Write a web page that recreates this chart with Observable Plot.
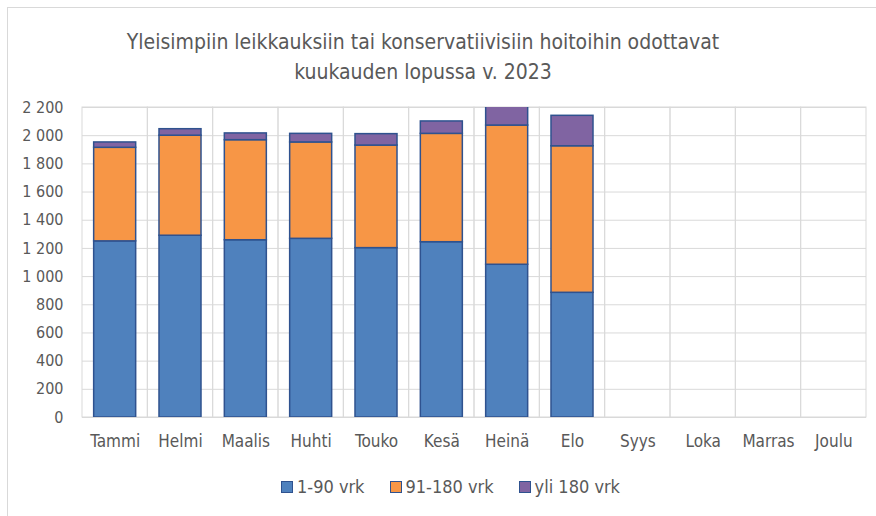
<!DOCTYPE html>
<html>
<head>
<meta charset="utf-8">
<script src="https://cdn.jsdelivr.net/npm/d3@7"></script>
<script src="https://cdn.jsdelivr.net/npm/@observablehq/plot@0.6"></script>
<style>
  html, body { margin: 0; padding: 0; background: #fff; }
  body { width: 876px; height: 516px; position: relative; overflow: hidden;
         font-family: "DejaVu Sans Condensed", sans-serif; color: #595959; }
  #frame { position: absolute; left: 7px; top: 7px; width: 900px; height: 600px;
           border-left: 1px solid #d9d9d9; border-top: 1px solid #d9d9d9; }
  #title { position: absolute; left: 0; top: 27px; width: 846px; text-align: center;
           font-size: 21px; line-height: 30px; color: #595959; }
  #chart { position: absolute; left: 0; top: 87px; }
  #chart svg { background: transparent !important; }
  #legend { position: absolute; left: 281px; top: 476px; display: flex; align-items: center;
            font-size: 18px; color: #595959; white-space: nowrap; }
  #legend .item { display: flex; align-items: center; margin-right: 25px; }
  #legend .sw { width: 10px; height: 10px; border: 1px solid #2f528f; margin-right: 4px; }
</style>
</head>
<body>
<div id="frame"></div>
<div id="title">Yleisimpiin leikkauksiin tai konservatiivisiin hoitoihin odottavat<br>kuukauden lopussa v. 2023</div>
<div id="chart"></div>
<div id="legend"></div>
<script>
const months = ["Tammi","Helmi","Maalis","Huhti","Touko","Kesä","Heinä","Elo","Syys","Loka","Marras","Joulu"];
const seriesNames = ["1-90 vrk","91-180 vrk","yli 180 vrk"];
const colors = ["#4f81bd","#f79646","#8064a2"];
const v1_90 = [1250, 1290, 1258, 1268, 1202, 1244, 1084, 885];
const v91_180 = [664, 710, 710, 684, 728, 769, 988, 1040];
const vYli180 = [38, 46, 48, 61, 81, 88, 150, 216];
const yTicks = [0,200,400,600,800,1000,1200,1400,1600,1800,2000,2200];

const rows = [];
[v1_90, v91_180, vYli180].forEach((arr, si) => {
  arr.forEach((v, i) => rows.push({month: months[i], series: seriesNames[si], value: v}));
});

const fmt = d3.formatLocale({decimal: ",", thousands: " ", grouping: [3], currency: ["", "€"]}).format(",d");

const W = 876, H = 383, mL = 82, mR = 10;
const step = (W - mL - mR) / months.length;
const pInner = 0.357;
const halfGap = step * pInner / 2;

const chart = Plot.plot({
  width: W,
  height: H,
  marginLeft: mL,
  marginRight: mR,
  marginTop: 20,
  marginBottom: 53,
  style: {fontFamily: '"DejaVu Sans Condensed", sans-serif', fontSize: "16px", color: "#595959", background: "transparent"},
  x: {domain: months, paddingInner: pInner, paddingOuter: pInner / 2, round: false, label: null},
  y: {domain: [0, 2200], label: null},
  color: {domain: seriesNames, range: colors},
  marks: [
    Plot.gridY(yTicks, {stroke: "#d9d9d9", strokeOpacity: 1, strokeWidth: 1}),
    Plot.barY(months, {x: d => d, y1: 0, y2: 2200, fill: "none", stroke: "#d9d9d9", strokeWidth: 1,
                       insetLeft: -halfGap, insetRight: -halfGap}),
    Plot.barY(rows, {x: "month", y: "value", fill: "series", order: seriesNames,
                     stroke: "#2f528f", strokeWidth: 1.5, clip: true}),
    Plot.axisY(yTicks, {tickSize: 0, tickPadding: 19, tickFormat: fmt, fontSize: 16, fill: "#595959"}),
    Plot.axisX({tickSize: 0, tickPadding: 17, fontSize: 17, fill: "#595959"})
  ]
});
document.getElementById("chart").appendChild(chart);

const legend = document.getElementById("legend");
seriesNames.forEach((name, i) => {
  const item = document.createElement("div");
  item.className = "item";
  const sw = document.createElement("div");
  sw.className = "sw";
  sw.style.background = colors[i];
  const label = document.createElement("span");
  label.textContent = name;
  item.appendChild(sw);
  item.appendChild(label);
  legend.appendChild(item);
});
</script>
</body>
</html>
